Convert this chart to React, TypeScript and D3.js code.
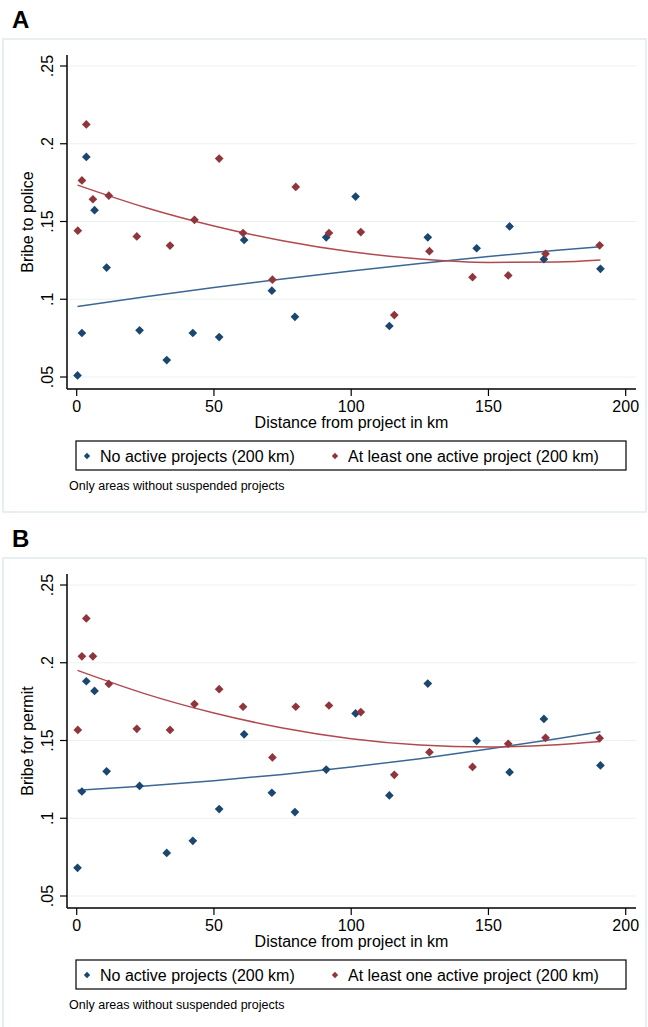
import React from 'react';
import * as d3 from 'd3';

// distance from project (km) of each area, shared by both panels
const blueKm = [0.3, 1.9, 3.5, 6.5, 10.9, 22.9, 32.8, 42.3, 51.9, 61, 71.1, 79.5, 90.9, 101.6, 113.9, 127.9, 145.7, 157.7, 170.2, 190.8];
const redKm = [0.4, 1.9, 3.5, 5.9, 11.7, 21.9, 34, 42.9, 51.9, 60.6, 71.3, 79.8, 91.9, 103.5, 115.7, 128.5, 144.2, 157.2, 170.8, 190.5];

// panel A: bribe to police
const policeBlue = [0.051, 0.0783, 0.1915, 0.1573, 0.1204, 0.080, 0.0609, 0.0783, 0.0757, 0.1381, 0.1055, 0.0887, 0.1398, 0.166, 0.0828, 0.1398, 0.1328, 0.1468, 0.1258, 0.1196];
const policeRed = [0.1441, 0.1764, 0.2124, 0.1643, 0.1666, 0.1404, 0.1345, 0.1511, 0.1905, 0.1426, 0.1126, 0.1722, 0.1426, 0.1432, 0.0898, 0.1309, 0.1142, 0.1153, 0.1292, 0.1347];

// panel B: bribe for permit
const permitBlue = [0.0681, 0.1172, 0.1881, 0.1819, 0.1302, 0.1208, 0.0777, 0.0855, 0.1059, 0.154, 0.1164, 0.104, 0.1313, 0.1674, 0.1147, 0.1866, 0.1498, 0.1296, 0.1639, 0.134];
const permitRed = [0.1568, 0.2041, 0.2285, 0.2041, 0.1864, 0.1575, 0.1568, 0.1734, 0.183, 0.1717, 0.1391, 0.1717, 0.1725, 0.1683, 0.1279, 0.1425, 0.133, 0.1479, 0.1517, 0.1515];

// quadratic fit lines
const fitKm = [0.3, 25, 50, 75, 100, 125, 150, 175, 190.8];
const policeBlueFit = [0.0953, 0.1016, 0.1075, 0.1130, 0.1182, 0.1230, 0.1275, 0.1315, 0.1338];
const policeRedFit = [0.1734, 0.1590, 0.1471, 0.1376, 0.1305, 0.1259, 0.1237, 0.1240, 0.1253];
const permitBlueFit = [0.118, 0.1207, 0.1241, 0.1282, 0.1329, 0.1383, 0.1445, 0.1512, 0.1557];
const permitRedFit = [0.1951, 0.1800, 0.1677, 0.1581, 0.1512, 0.1471, 0.1458, 0.1472, 0.1493];

const xTicks = [0, 50, 100, 150, 200];
const yTicks = [0.05, 0.1, 0.15, 0.2, 0.25];
const yTickLabels = ['.05', '.1', '.15', '.2', '.25'];
const legendLabels = ['No active projects (200 km)', 'At least one active project (200 km)'];

const BLUE = '#1a476f';
const RED = '#90353b';
const BLUE_LINE = '#3a6794';
const RED_LINE = '#b14a50';
const FONT = '"Liberation Sans", Arial, sans-serif';

const x = d3.scaleLinear().domain([0, 200]).range([76.7, 625.7]);
const diamond = d3.symbol().type(d3.symbolSquare).size(38)();
const smallDiamond = d3.symbol().type(d3.symbolSquare).size(20)();

const Panel = ({ top, letter, yTitle, blue, red, blueFit, redFit }) => {
    const y = d3.scaleLinear().domain([0.05, 0.25]).range([377, 66]);
    const line = d3.line()
        .x(d => x(d[0]))
        .y(d => y(d[1]))
        .curve(d3.curveMonotoneX);
    const axisX = 67, axisY = 389, right = 636, axisTop = 55;

    return (
        <g transform={`translate(0 ${top})`} fontFamily={FONT}>
            <text x={12} y={28} fontSize={24} fontWeight="bold" fill="#000">{letter}</text>
            <rect x={3} y={39} width={643} height={473} fill="none" stroke="#e1eaec" strokeWidth={1.5} />

            {/* grid */}
            {yTicks.map(t => (
                <line key={'g' + t} x1={axisX} x2={right} y1={y(t)} y2={y(t)} stroke="#eaf1f2" strokeWidth={1.2} />
            ))}

            {/* fit lines */}
            <path d={line(fitKm.map((k, i) => [k, blueFit[i]]))} fill="none" stroke={BLUE_LINE} strokeWidth={1.5} />
            <path d={line(fitKm.map((k, i) => [k, redFit[i]]))} fill="none" stroke={RED_LINE} strokeWidth={1.5} />

            {/* points */}
            {blueKm.map((k, i) => (
                <path key={'b' + i} d={diamond} transform={`translate(${x(k)} ${y(blue[i])}) rotate(45)`} fill={BLUE} />
            ))}
            {redKm.map((k, i) => (
                <path key={'r' + i} d={diamond} transform={`translate(${x(k)} ${y(red[i])}) rotate(45)`} fill={RED} />
            ))}

            {/* axes */}
            <line x1={axisX} x2={axisX} y1={axisTop} y2={axisY} stroke="#000" strokeWidth={1.5} />
            <line x1={axisX} x2={right} y1={axisY} y2={axisY} stroke="#000" strokeWidth={1.5} />
            {yTicks.map((t, i) => (
                <g key={'y' + t}>
                    <line x1={axisX - 7} x2={axisX} y1={y(t)} y2={y(t)} stroke="#000" strokeWidth={1.2} />
                    <text transform={`translate(53 ${y(t)}) rotate(-90)`} textAnchor="middle" fontSize={16} fill="#000">
                        {yTickLabels[i]}
                    </text>
                </g>
            ))}
            {xTicks.map(t => (
                <g key={'x' + t}>
                    <line x1={x(t)} x2={x(t)} y1={axisY} y2={axisY + 7} stroke="#000" strokeWidth={1.2} />
                    <text x={x(t)} y={412} textAnchor="middle" fontSize={16} fill="#000">{t}</text>
                </g>
            ))}
            <text transform={`translate(33 ${(axisTop + axisY) / 2}) rotate(-90)`} textAnchor="middle" fontSize={16} fill="#000">
                {yTitle}
            </text>
            <text x={(axisX + right) / 2} y={428} textAnchor="middle" fontSize={16} fill="#000">
                Distance from project in km
            </text>

            {/* legend */}
            <rect x={76} y={441} width={550} height={29} fill="#fff" stroke="#000" strokeWidth={1.2} />
            <path d={smallDiamond} transform="translate(87 456) rotate(45)" fill={BLUE} />
            <text x={100} y={462} fontSize={16} fill="#000">{legendLabels[0]}</text>
            <path d={smallDiamond} transform="translate(335 456) rotate(45)" fill={RED} />
            <text x={348} y={462} fontSize={16} fill="#000">{legendLabels[1]}</text>

            <text x={69} y={490} fontSize={12.5} fill="#000">Only areas without suspended projects</text>
        </g>
    );
};

const App = () => (
    <svg width={648} height={1027} style={{ position: 'absolute', left: 0, top: 0, background: '#fff' }}>
        <rect width={648} height={1027} fill="#fff" />
        <Panel top={0} letter="A" yTitle="Bribe to police"
               blue={policeBlue} red={policeRed} blueFit={policeBlueFit} redFit={policeRedFit} />
        <Panel top={519} letter="B" yTitle="Bribe for permit"
               blue={permitBlue} red={permitRed} blueFit={permitBlueFit} redFit={permitRedFit} />
    </svg>
);

export default App;
